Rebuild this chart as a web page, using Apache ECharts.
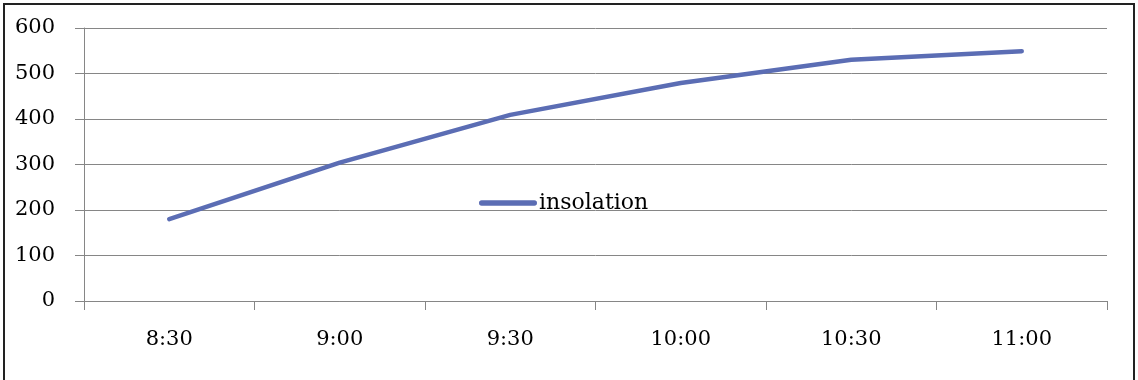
<!DOCTYPE html>
<html><head><meta charset="utf-8">
<script src="https://cdn.jsdelivr.net/npm/echarts@6/dist/echarts.min.js"></script>
<style>html,body{margin:0;padding:0;background:#fff}#c{width:1138px;height:380px}</style>
</head><body><div id="c"></div>
<script>
const categories = ['8:30', '9:00', '9:30', '10:00', '10:30', '11:00'];
const insolation = [180, 304, 409, 479, 530, 549];
const seriesName = 'insolation';

const FONT = 'DejaVu Serif';
const chart = echarts.init(document.getElementById('c'), null, {renderer: 'canvas'});
chart.setOption({
  animation: false,
  backgroundColor: '#fff',
  textStyle: {fontFamily: FONT},
  graphic: [{
    type: 'rect', silent: true,
    shape: {x: 4, y: 4, width: 1130, height: 420},
    style: {fill: 'none', stroke: '#222', lineWidth: 2}
  }],
  grid: {left: 84, right: 31, top: 28, bottom: 79, containLabel: false},
  legend: {
    data: [seriesName],
    left: 474, top: 187,
    itemWidth: 58, itemHeight: 14, itemGap: 5,
    textStyle: {fontFamily: FONT, fontSize: 22, color: '#000', padding: [0, 0, 0, -3]},
    icon: 'path://M2,0 L51,0 A2.5,2.5 0 0 1 51,5 L2,5 A2.5,2.5 0 0 1 2,0 Z',
    itemStyle: {color: '#5b6db4'}
  },
  xAxis: {
    type: 'category', data: categories, boundaryGap: true,
    axisLine: {lineStyle: {color: '#868686', width: 1}},
    axisTick: {show: true, length: 9, lineStyle: {color: '#868686'}},
    axisLabel: {color: '#000', fontFamily: FONT, fontSize: 21, margin: 28}
  },
  yAxis: {
    type: 'value', min: 0, max: 600, interval: 100,
    axisLine: {show: true, lineStyle: {color: '#868686', width: 1}},
    axisTick: {show: true, length: 9, inside: false, lineStyle: {color: '#868686'}},
    splitLine: {lineStyle: {color: '#868686', width: 1}},
    axisLabel: {color: '#000', fontFamily: FONT, fontSize: 21, margin: 29}
  },
  series: [{
    name: seriesName, type: 'line', data: insolation,
    symbol: 'none', showSymbol: false,
    lineStyle: {color: '#5b6db4', width: 4.5, cap: 'round', join: 'round'},
    itemStyle: {color: '#5b6db4'}
  }]
});
</script></body></html>
